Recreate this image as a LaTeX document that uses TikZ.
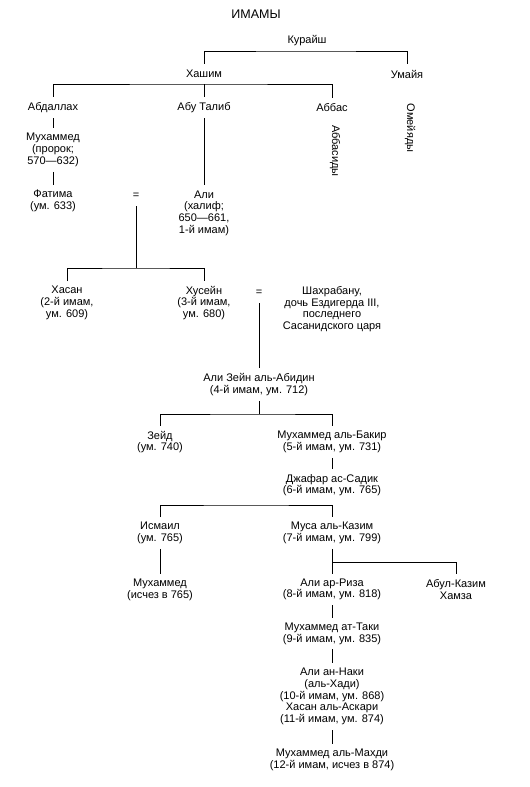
\documentclass[tikz,border=0pt]{standalone}
\usepackage{fontspec}
\setmainfont{Liberation Sans}
\begin{document}
\begin{tikzpicture}[x=1pt,y=-1pt,
  lbl/.style={align=center, inner sep=0pt, font=\fontsize{11}{11.7}\selectfont},
  ttl/.style={inner sep=0pt, font=\fontsize{12.5}{14}\selectfont},
  conn/.style={line width=0.8pt}]
\useasboundingbox (0,0) rectangle (530,787);
% nodes
\node[ttl] (title) at (256,14) {ИМАМЫ};
\node[lbl] (kur) at (307,41) {Курайш};
\node[lbl] (hash) at (204,74) {Хашим};
\node[lbl] (umai) at (407,74) {Умайя};
\node[lbl] (abd) at (53,108) {Абдаллах};
\node[lbl] (abut) at (204,108) {Абу Талиб};
\node[lbl] (abbas) at (332,108) {Аббас};
\node[lbl,rotate=-90] (abbd) at (335,151) {Аббасиды};
\node[lbl,rotate=-90] (omey) at (410,128) {Омейяды};
\node[lbl] (muh) at (53,150) {Мухаммед\\(пророк;\\570—632)};
\node[lbl] (fat) at (53,201) {Фатима\\(ум. 633)};
\node[lbl] (eqa) at (136,196) {=};
\node[lbl] (ali) at (204,213) {Али\\(халиф;\\650—661,\\1-й имам)};
\node[lbl] (hasan) at (67,303) {Хасан\\(2-й имам,\\ум. 609)};
\node[lbl] (hus) at (204,303) {Хусейн\\(3-й имам,\\ум. 680)};
\node[lbl] (eqb) at (259,293) {=};
\node[lbl] (shah) at (332,309) {Шахрабану,\\дочь Ездигерда III,\\последнего\\Сасанидского царя};
\node[lbl] (zayn) at (259,384.5) {Али Зейн аль-Абидин\\(4-й имам, ум. 712)};
\node[lbl] (zeid) at (160,442) {Зейд\\(ум. 740)};
\node[lbl] (baqir) at (332,442) {Мухаммед аль-Бакир\\(5-й имам, ум. 731)};
\node[lbl] (jafar) at (332,485) {Джафар ас-Садик\\(6-й имам, ум. 765)};
\node[lbl] (ismail) at (160,533) {Исмаил\\(ум. 765)};
\node[lbl] (musa) at (332,533) {Муса аль-Казим\\(7-й имам, ум. 799)};
\node[lbl] (muh2) at (160,589.5) {Мухаммед\\(исчез в 765)};
\node[lbl] (riza) at (332,589.5) {Али ар-Риза\\(8-й имам, ум. 818)};
\node[lbl] (hamza) at (456,589.5) {Абул-Казим\\Хамза};
\node[lbl] (taqi) at (332,633.5) {Мухаммед ат-Таки\\(9-й имам, ум. 835)};
\node[lbl] (naqi) at (332,696.5) {Али ан-Наки\\(аль-Хади)\\(10-й имам, ум. 868)\\Хасан аль-Аскари\\(11-й имам, ум. 874)};
\node[lbl] (mahdi) at (332,759.5) {Мухаммед аль-Махди\\(12-й имам, исчез в 874)};
% coordinates
\coordinate (kb) at (306,51);
\coordinate (hb) at (204,84);
\coordinate (fb) at (136,268);
\coordinate (zb) at (259,414);
\coordinate (jb) at (246,505);
\coordinate (mb) at (332,562);
% connectors
\draw[conn] ([yshift=6pt]hash.north) |- (kb) -| ([yshift=6pt]umai.north);
\draw[conn] ([yshift=6pt]abd.north) |- (hb) -| ([yshift=6pt]abbas.north);
\draw[conn] (hb) -- ([yshift=6pt]abut.north);
\draw[conn] ([yshift=-5pt]abd.south) -- ([yshift=5pt]muh.north);
\draw[conn] ([yshift=-5pt]muh.south) -- ([yshift=5pt]fat.north);
\draw[conn] ([yshift=-5pt]abut.south) -- ([yshift=5pt]ali.north);
\draw[conn] ([yshift=-10pt]eqa.center) -- (fb);
\draw[conn] ([yshift=5pt]hasan.north) |- (fb) -| ([yshift=5pt]hus.north);
\draw[conn] ([yshift=-10pt]eqb.center) -- ([yshift=5pt]zayn.north);
\draw[conn] ([yshift=-5pt]zayn.south) -- (zb);
\draw[conn] ([yshift=5pt]zeid.north) |- (zb) -| ([yshift=5pt]baqir.north);
\draw[conn] ([yshift=-5pt]baqir.south) -- ([yshift=5pt]jafar.north);
\draw[conn] ([yshift=5pt]ismail.north) |- (jb) -| ([yshift=5pt]musa.north);
\draw[conn] ([yshift=-5pt]ismail.south) -- ([yshift=5pt]muh2.north);
\draw[conn] ([yshift=-5pt]musa.south) -- ([yshift=5pt]riza.north);
\draw[conn] (mb) -| ([yshift=5pt]hamza.north);
\draw[conn] ([yshift=-5pt]riza.south) -- ([yshift=5pt]taqi.north);
\draw[conn] ([yshift=-5pt]taqi.south) -- ([yshift=5pt]naqi.north);
\draw[conn] ([yshift=-5pt]naqi.south) -- ([yshift=5pt]mahdi.north);
\end{tikzpicture}
\end{document}
